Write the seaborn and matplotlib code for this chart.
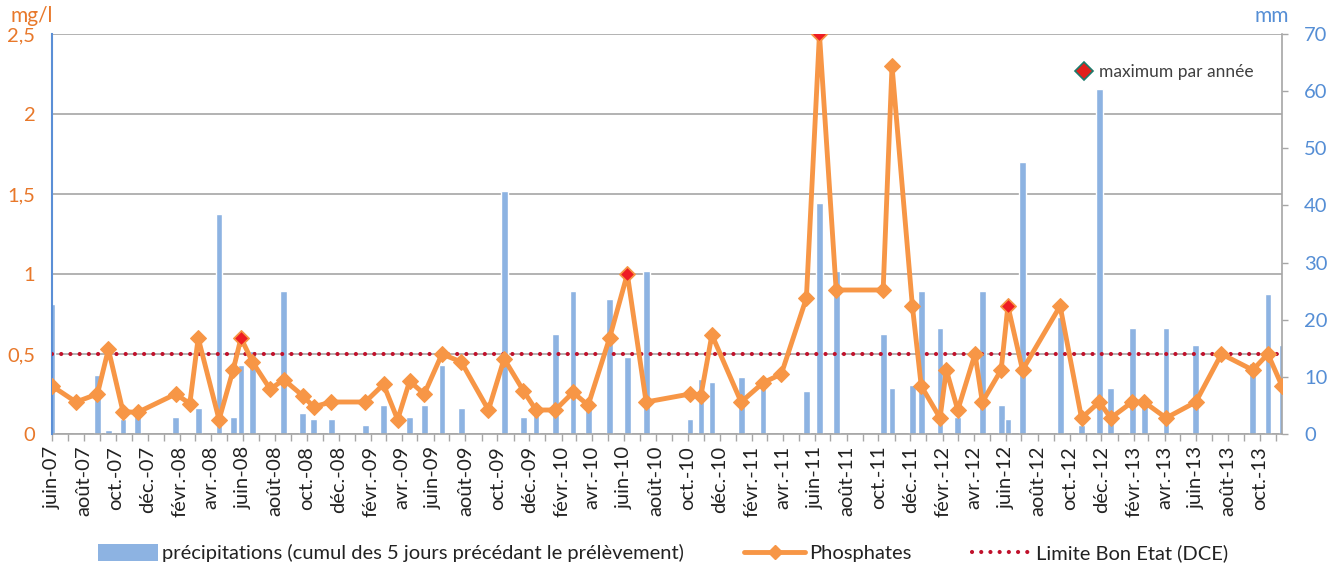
import numpy as np
import pandas as pd
import matplotlib
matplotlib.use("Agg")
import matplotlib.pyplot as plt
import matplotlib.dates as mdates
from matplotlib.ticker import FuncFormatter
from matplotlib.lines import Line2D
from matplotlib.patches import Patch
import seaborn as sns


# sampling dates, phosphates (mg/l) and 5-day rain before sampling (mm)
sample_dates = [
    "2007-06-01", "2007-07-17", "2007-08-27", "2007-09-17", "2007-10-15", "2007-11-12",
    "2008-01-24", "2008-02-20", "2008-03-07", "2008-04-16", "2008-05-13", "2008-05-28",
    "2008-06-19", "2008-07-23", "2008-08-18", "2008-09-23", "2008-10-14", "2008-11-17",
    "2009-01-21", "2009-02-25", "2009-03-24", "2009-04-16", "2009-05-14", "2009-06-17",
    "2009-07-24", "2009-09-14", "2009-10-14", "2009-11-20", "2009-12-14", "2010-01-20",
    "2010-02-23", "2010-03-24", "2010-05-04", "2010-06-07", "2010-07-13", "2010-10-05",
    "2010-10-26", "2010-11-16", "2011-01-11", "2011-02-22", "2011-03-29", "2011-05-16",
    "2011-06-10", "2011-07-12", "2011-10-10", "2011-10-27", "2011-12-05", "2011-12-22",
    "2012-01-27", "2012-02-08", "2012-03-01", "2012-04-03", "2012-04-17", "2012-05-23",
    "2012-06-05", "2012-07-03", "2012-09-13", "2012-10-24", "2012-11-27", "2012-12-19",
    "2013-01-29", "2013-02-21", "2013-04-04", "2013-05-31", "2013-07-19", "2013-09-17",
    "2013-10-16", "2013-11-12",
]

phosphates = [
    0.30, 0.20, 0.25, 0.53, 0.14, 0.135,
    0.25, 0.19, 0.60, 0.09, 0.40, 0.60,
    0.45, 0.28, 0.34, 0.24, 0.17, 0.20,
    0.20, 0.31, 0.09, 0.33, 0.25, 0.50,
    0.45, 0.15, 0.47, 0.27, 0.15, 0.15,
    0.26, 0.18, 0.60, 1.00, 0.20, 0.25,
    0.24, 0.62, 0.20, 0.32, 0.375, 0.85,
    2.50, 0.90, 0.90, 2.30, 0.80, 0.30,
    0.10, 0.40, 0.15, 0.50, 0.20, 0.40,
    0.80, 0.40, 0.80, 0.10, 0.20, 0.10,
    0.20, 0.20, 0.10, 0.20, 0.50, 0.40,
    0.50, 0.30,
]

precipitations = [
    22.7, 0, 10.3, 0.7, 2.6, 4.2,
    3.0, 0, 4.6, 38.5, 3.0, 12.1,
    14.5, 0, 25.1, 3.6, 2.6, 2.6,
    1.6, 5.0, 0, 3.0, 5.0, 12.1,
    4.5, 0, 42.5, 3.0, 4.2, 17.5,
    25.1, 5.1, 23.6, 13.5, 28.5, 2.6,
    9.6, 9.1, 10.0, 9.0, 0, 7.5,
    40.5, 28.5, 17.5, 8.0, 8.6, 25.1,
    18.5, 0, 3.0, 0, 25.1, 5.0,
    2.6, 47.6, 20.5, 1.6, 60.4, 8.0,
    18.5, 6.5, 18.5, 15.5, 0, 12.5,
    24.5, 15.5,
]

max_dates = ["2008-05-28", "2010-06-07", "2011-06-10", "2012-06-05"]

limit_dce = 0.5

month_names = ["janv.", "févr.", "mars", "avr.", "mai", "juin",
               "juil.", "août", "sept.", "oct.", "nov.", "déc."]

p_ticks = [0, 0.5, 1, 1.5, 2, 2.5]
p_labels = ["0", "0,5", "1", "1,5", "2", "2,5"]
mm_ticks = [0, 10, 20, 30, 40, 50, 60, 70]


df = pd.DataFrame({
    "date": pd.to_datetime(sample_dates),
    "phosphates": phosphates,
    "precip": precipitations,
})
df_max = df[df["date"].isin(pd.to_datetime(max_dates))]

ORANGE = "#f79646"
ORANGE_TXT = "#e8782a"
BLUE_BAR = "#8db3e2"
BLUE_TXT = "#558ed5"
RED_DOT = "#c0112b"
GRID = "#a6a6a6"

sns.set_theme(style="white")
plt.rcParams["font.family"] = ["Lato", "DejaVu Sans"]

fig = plt.figure(figsize=(13.34, 5.70), dpi=100)

ax_r = fig.add_axes([52 / 1334, 1 - 434 / 570, 1230 / 1334, 400 / 570])
ax_l = ax_r.twinx()

# precipitation bars (right axis)
ax_r.bar(df["date"], df["precip"], width=13, color=BLUE_BAR, zorder=2)
ax_r.set_ylim(0, 70)
ax_r.set_yticks(mm_ticks)
ax_r.yaxis.tick_right()
ax_r.tick_params(axis="y", colors=GRID, labelcolor=BLUE_TXT, labelsize=14.5,
                 direction="out", length=4, width=1, pad=12, right=True, left=False)

# horizontal grid, following the mg/l scale
for v in p_ticks:
    ax_r.axhline(v * 70 / 2.5, color=GRID, lw=1.2, zorder=1)

# phosphates (left axis)
ax_l.axhline(limit_dce, color=RED_DOT, lw=3, ls=(0, (0.01, 2.2)),
             dash_capstyle="round", zorder=3)
sns.lineplot(data=df, x="date", y="phosphates", ax=ax_l, color=ORANGE,
             lw=3.5, marker="D", markersize=8, markeredgecolor=ORANGE,
             zorder=4)
sns.scatterplot(data=df_max, x="date", y="phosphates", ax=ax_l, marker="D",
                s=55, color="#ee1c24", edgecolor=ORANGE, linewidth=1,
                zorder=5)

ax_l.set_ylim(0, 2.5)
ax_l.set_yticks(p_ticks)
ax_l.set_yticklabels(p_labels)
ax_l.yaxis.set_ticks_position("left")
ax_l.yaxis.set_label_position("left")
ax_l.tick_params(axis="y", labelcolor=ORANGE_TXT, labelsize=14.5, length=0, pad=12)
ax_l.set_xlabel("")
ax_l.set_ylabel("")

ax_r.set_xlim(df["date"].iloc[0], df["date"].iloc[-1])

# x axis : months
ax_r.xaxis.set_major_locator(mdates.MonthLocator(bymonth=[2, 4, 6, 8, 10, 12]))
ax_r.xaxis.set_minor_locator(mdates.MonthLocator())
ax_r.xaxis.set_major_formatter(FuncFormatter(
    lambda x, pos: month_names[mdates.num2date(x).month - 1]
    + "-" + mdates.num2date(x).strftime("%y")))
ax_r.tick_params(axis="x", which="both", colors=GRID, labelcolor="#222222",
                 labelsize=14.5, labelrotation=90, direction="out",
                 length=5, width=1, bottom=True)

for s in ["top", "left"]:
    ax_r.spines[s].set_visible(False)
for s in ["right", "bottom"]:
    ax_r.spines[s].set_color(GRID)
    ax_r.spines[s].set_linewidth(1.2)
for s in ["top", "right", "bottom"]:
    ax_l.spines[s].set_visible(False)
ax_l.spines["left"].set_color("#5b8fd6")
ax_l.spines["left"].set_linewidth(1.5)

# units
fig.text(10 / 1334, 1 - 16 / 570, "mg/l", color=ORANGE_TXT, fontsize=15, va="center")
fig.text(1272 / 1334, 1 - 16 / 570, "mm", color=BLUE_TXT, fontsize=15,
         va="center", ha="center")

# inner legend
max_handle = Line2D([], [], marker="D", ls="none", markersize=9,
                    markerfacecolor="#e0201c", markeredgecolor="#1b7c6c",
                    markeredgewidth=1.2)
ax_l.legend([max_handle], ["maximum par année"], loc="center right",
            bbox_to_anchor=(0.99, 0.905), frameon=False, fontsize=12.5,
            handlelength=1, handletextpad=0.4, labelcolor="#404040")

# bottom legend
handles = [
    Patch(facecolor=BLUE_BAR, edgecolor="none"),
    Line2D([], [], color=ORANGE, lw=3.5, marker="D", markersize=7),
    Line2D([], [], color=RED_DOT, lw=3, ls=(0, (0.01, 2.2)), dash_capstyle="round"),
]
labels = [
    "précipitations (cumul des 5 jours précédant le prélèvement)",
    "Phosphates",
    "Limite Bon Etat (DCE)",
]
fig.legend(handles, labels, loc="center", bbox_to_anchor=(0.497, 1 - 553 / 570),
           ncol=3, frameon=False, fontsize=14.5, handlelength=3.0,
           handleheight=0.9, columnspacing=3.0, handletextpad=0.2,
           labelcolor="#222222")

fig.savefig("out.png", dpi=100)
